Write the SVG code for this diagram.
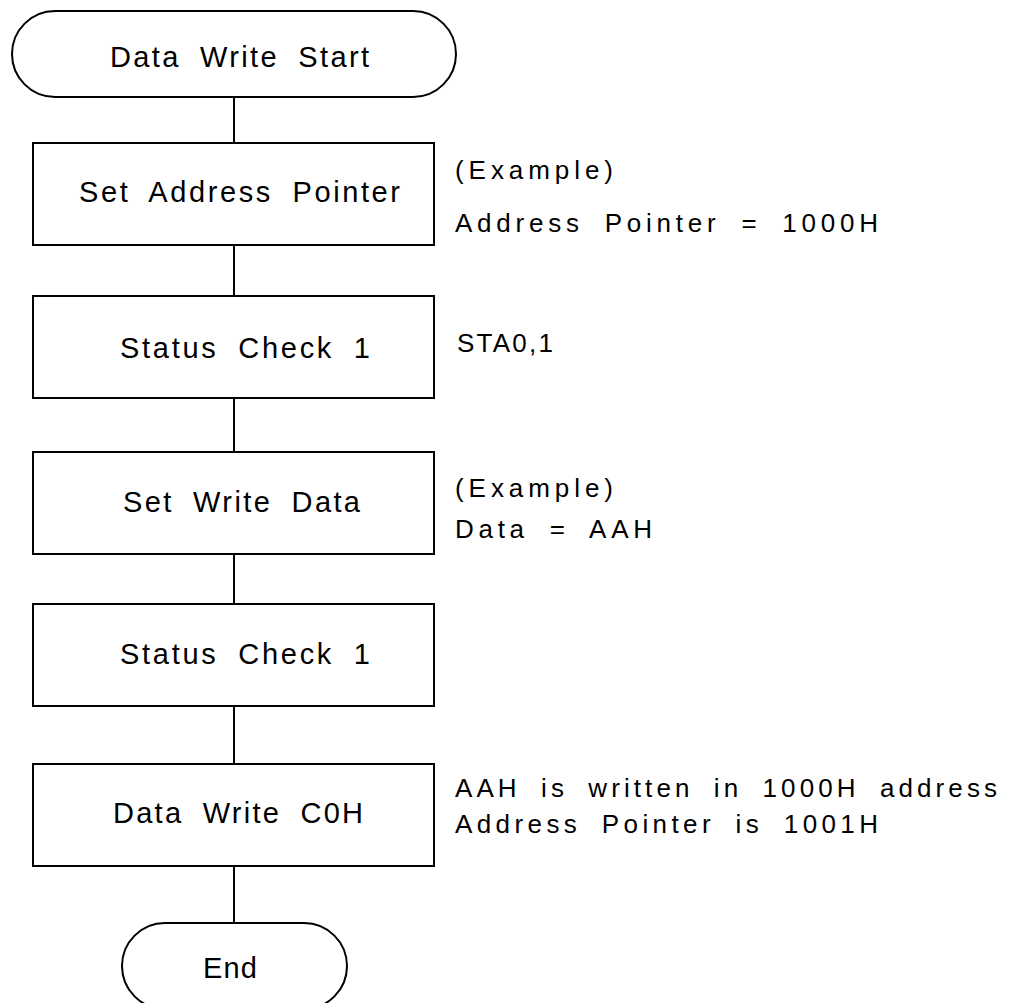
<svg xmlns="http://www.w3.org/2000/svg" width="1009" height="1003" viewBox="0 0 1009 1003">
  <style>
    .shape { fill: #ffffff; stroke: #000000; stroke-width: 2; }
    .conn { stroke: #000000; stroke-width: 2; fill: none; }
    .lbl { font-family: "Liberation Sans", Arial, sans-serif; font-size: 29px; fill: #000000; word-spacing: 9px; }
    .note { font-family: "Liberation Sans", Arial, sans-serif; font-size: 26px; fill: #000000; word-spacing: 9px; }
  </style>
  <rect width="1009" height="1003" fill="#ffffff"/>
  <g id="connectors">
    <line class="conn" x1="234" y1="97" x2="234" y2="143"/>
    <line class="conn" x1="234" y1="245" x2="234" y2="296"/>
    <line class="conn" x1="234" y1="398" x2="234" y2="452"/>
    <line class="conn" x1="234" y1="554" x2="234" y2="604"/>
    <line class="conn" x1="234" y1="706" x2="234" y2="764"/>
    <line class="conn" x1="234" y1="866" x2="234" y2="923"/>
  </g>
  <g id="start">
    <rect class="shape" x="12" y="11" width="444" height="86" rx="43" ry="43"/>
    <text class="lbl" x="110" y="67" textLength="259" lengthAdjust="spacing">Data Write Start</text>
  </g>
  <g id="set-address-pointer">
    <rect class="shape" x="33" y="143" width="401" height="102"/>
    <text class="lbl" x="79" y="202" textLength="321" lengthAdjust="spacing">Set Address Pointer</text>
  </g>
  <g id="status-check-1a">
    <rect class="shape" x="33" y="296" width="401" height="102"/>
    <text class="lbl" x="120" y="358" textLength="250" lengthAdjust="spacing">Status Check 1</text>
  </g>
  <g id="set-write-data">
    <rect class="shape" x="33" y="452" width="401" height="102"/>
    <text class="lbl" x="123" y="512" textLength="237" lengthAdjust="spacing">Set Write Data</text>
  </g>
  <g id="status-check-1b">
    <rect class="shape" x="33" y="604" width="401" height="102"/>
    <text class="lbl" x="120" y="664" textLength="250" lengthAdjust="spacing">Status Check 1</text>
  </g>
  <g id="data-write-c0h">
    <rect class="shape" x="33" y="764" width="401" height="102"/>
    <text class="lbl" x="113" y="823" textLength="250" lengthAdjust="spacing">Data Write C0H</text>
  </g>
  <g id="end">
    <rect class="shape" x="122" y="923" width="225" height="86" rx="43" ry="43"/>
    <text class="lbl" x="203" y="978" textLength="54" lengthAdjust="spacing">End</text>
  </g>
  <g id="notes">
    <text class="note" x="455" y="179" textLength="158" lengthAdjust="spacing">(Example)</text>
    <text class="note" x="455" y="232" textLength="423" lengthAdjust="spacing">Address Pointer = 1000H</text>
    <text class="note" x="457" y="352" textLength="96" lengthAdjust="spacing">STA0,1</text>
    <text class="note" x="455" y="497" textLength="158" lengthAdjust="spacing">(Example)</text>
    <text class="note" x="455" y="538" textLength="197" lengthAdjust="spacing">Data = AAH</text>
    <text class="note" x="455" y="797" textLength="542" lengthAdjust="spacing">AAH is written in 1000H address</text>
    <text class="note" x="455" y="833" textLength="423" lengthAdjust="spacing">Address Pointer is 1001H</text>
  </g>
</svg>
